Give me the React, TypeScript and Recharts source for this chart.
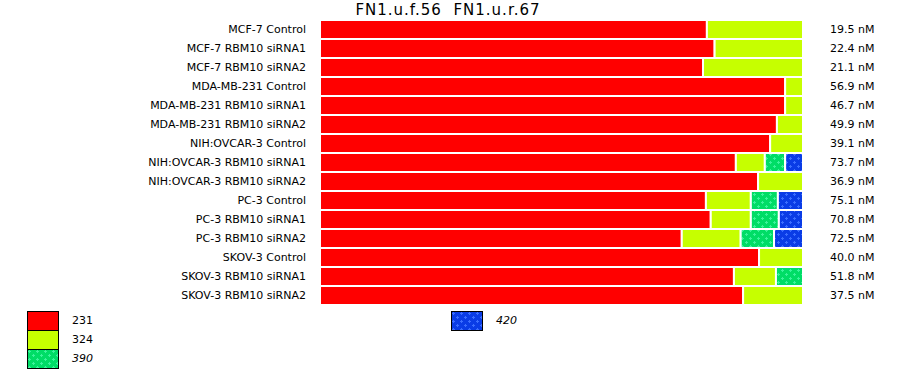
import { BarChart, Bar, XAxis, YAxis } from "recharts";

// --- chart data ---
const categories = [
  "MCF-7 Control", "MCF-7 RBM10 siRNA1", "MCF-7 RBM10 siRNA2",
  "MDA-MB-231 Control", "MDA-MB-231 RBM10 siRNA1", "MDA-MB-231 RBM10 siRNA2",
  "NIH:OVCAR-3 Control", "NIH:OVCAR-3 RBM10 siRNA1", "NIH:OVCAR-3 RBM10 siRNA2",
  "PC-3 Control", "PC-3 RBM10 siRNA1", "PC-3 RBM10 siRNA2",
  "SKOV-3 Control", "SKOV-3 RBM10 siRNA1", "SKOV-3 RBM10 siRNA2",
];
const s231 = [80.1, 81.7, 79.3, 96.3, 96.3, 94.6, 93.2, 86.1, 90.7, 79.9, 80.9, 74.9, 90.9, 85.7, 87.6];
const s324 = [19.9, 18.3, 20.7, 3.7, 3.7, 5.4, 6.8, 6.0, 9.3, 9.3, 8.3, 12.2, 9.1, 8.7, 12.4];
const s390 = [0, 0, 0, 0, 0, 0, 0, 4.2, 0, 5.6, 5.8, 6.9, 0, 5.6, 0];
const s420 = [0, 0, 0, 0, 0, 0, 0, 3.7, 0, 5.2, 5.0, 6.0, 0, 0, 0];
const conc = [
  "19.5 nM", "22.4 nM", "21.1 nM", "56.9 nM", "46.7 nM", "49.9 nM", "39.1 nM",
  "73.7 nM", "36.9 nM", "75.1 nM", "70.8 nM", "72.5 nM", "40.0 nM", "51.8 nM", "37.5 nM",
];

const data = categories.map((name, i) => ({
  name,
  a231: s231[i],
  a324: s324[i],
  a390: s390[i],
  a420: s420[i],
  conc: conc[i],
}));

const FONT = "'DejaVu Sans', Verdana, sans-serif";

const legendItems = [
  { label: "231", fill: "#ff0000", italic: false, left: 27, top: 311 },
  { label: "324", fill: "#c6ff00", italic: false, left: 27, top: 330 },
  { label: "390", fill: "url(#pat390)", italic: true, left: 27, top: 349 },
  { label: "420", fill: "url(#pat420)", italic: true, left: 451, top: 311 },
];

const Pattern = ({ id, base, dot }: { id: string; base: string; dot: string }) => (
  <pattern id={id} width="8" height="8" patternUnits="userSpaceOnUse">
    <rect width="8" height="8" fill={base} />
    <rect x="1" y="2" width="3" height="1" fill={dot} />
    <rect x="2" y="1" width="1" height="3" fill={dot} />
    <rect x="5" y="6" width="3" height="1" fill={dot} />
    <rect x="6" y="5" width="1" height="3" fill={dot} />
  </pattern>
);

export default function App() {
  return (
    <div style={{ position: "absolute", left: 0, top: 0, width: 900, height: 375, fontFamily: FONT }}>
      <div
        style={{
          position: "absolute", left: 0, top: 0, width: 896, textAlign: "center",
          fontSize: 15, letterSpacing: 1, lineHeight: "20px", color: "#000", whiteSpace: "pre",
        }}
      >
        {"FN1.u.f.56  FN1.u.r.67"}
      </div>

      <BarChart
        width={900}
        height={375}
        data={data}
        layout="vertical"
        barCategoryGap={0}
        stackOffset="expand"
        margin={{ top: 20, right: 0, bottom: 70, left: 0 }}
      >
        <defs>
          <Pattern id="pat390" base="#00dd66" dot="#3cf39c" />
          <Pattern id="pat420" base="#0a3ce6" dot="#3c6eff" />
        </defs>
        <XAxis type="number" hide />
        <YAxis
          type="category"
          dataKey="name"
          width={320}
          axisLine={false}
          tickLine={false}
          tickSize={0}
          tickMargin={14}
          interval={0}
          tick={{ fill: "#000", fontSize: 11, fontFamily: FONT }}
        />
        <YAxis
          yAxisId="right"
          orientation="right"
          type="category"
          dataKey="conc"
          width={97}
          axisLine={false}
          tickLine={false}
          tickSize={0}
          tickMargin={27}
          interval={0}
          tick={{ fill: "#000", fontSize: 11, fontFamily: FONT }}
        />
        <Bar dataKey="a231" stackId="s" fill="#ff0000" stroke="#fff" strokeWidth={2} isAnimationActive={false} />
        <Bar dataKey="a324" stackId="s" fill="#c6ff00" stroke="#fff" strokeWidth={2} isAnimationActive={false} />
        <Bar dataKey="a390" stackId="s" fill="url(#pat390)" stroke="#fff" strokeWidth={2} isAnimationActive={false} />
        <Bar dataKey="a420" stackId="s" fill="url(#pat420)" stroke="#fff" strokeWidth={2} isAnimationActive={false} />
      </BarChart>

      {legendItems.map((item) => (
        <div key={item.label} style={{ position: "absolute", left: item.left, top: item.top, height: 19 }}>
          <svg width={32} height={20} style={{ position: "absolute", left: 0, top: 0 }}>
            <rect x={0.5} y={0.5} width={31} height={19} fill={item.fill} stroke="#000" strokeWidth={1} />
          </svg>
          <span
            style={{
              position: "absolute", left: 45, top: 2, fontSize: 11, lineHeight: "16px",
              fontStyle: item.italic ? "italic" : "normal", color: "#000",
            }}
          >
            {item.label}
          </span>
        </div>
      ))}
    </div>
  );
}
